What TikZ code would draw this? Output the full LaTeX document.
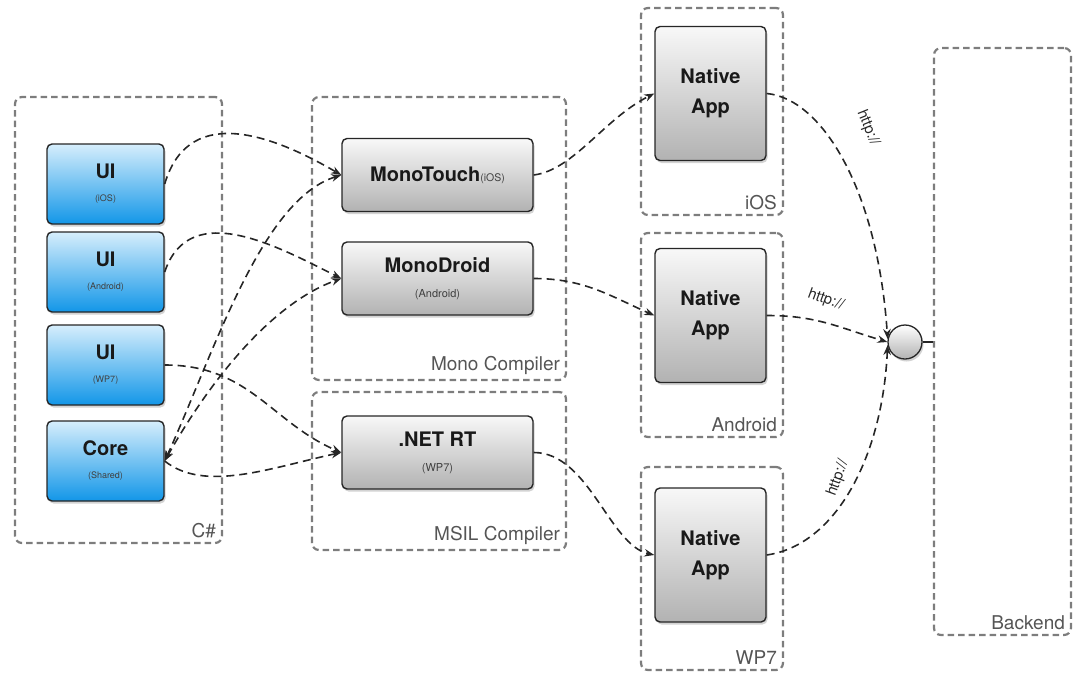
\documentclass[tikz,border=0pt]{standalone}
\usepackage{fontspec}
\setmainfont{TeX Gyre Heros}
\usetikzlibrary{arrows.meta, positioning, shadows}
\definecolor{uitop}{RGB}{214,238,252}
\definecolor{uibot}{RGB}{18,150,232}
\definecolor{grtop}{RGB}{248,248,248}
\definecolor{grbot}{RGB}{178,178,178}
\definecolor{dashgray}{RGB}{125,125,125}
\definecolor{lblgray}{RGB}{85,85,85}
\newcommand{\subt}[1]{{\mdseries\color{black!75}\fontsize{9}{10}\selectfont #1}}

\tikzset{
  box/.style={draw=black!85, line width=1.4pt, rounded corners=5pt, align=center,
    text=black!90, drop shadow={opacity=0.35, shadow xshift=1.5pt, shadow yshift=-2.5pt}},
  uibox/.style={box, top color=uitop, bottom color=uibot, minimum width=117pt,
    minimum height=80pt, font=\bfseries\fontsize{20}{22}\selectfont},
  cmpbox/.style={box, top color=grtop, bottom color=grbot, minimum width=191pt,
    minimum height=73pt, font=\bfseries\fontsize{20}{22}\selectfont},
  appbox/.style={box, top color=grtop, bottom color=grbot, minimum width=111pt,
    minimum height=134pt, font=\bfseries\fontsize{20}{30}\selectfont},
  group/.style={draw=dashgray, line width=2.2pt, dash pattern=on 6.5pt off 4pt,
    rounded corners=7pt},
  grouplbl/.style={text=lblgray, font=\fontsize{19}{22}\selectfont, anchor=south east,
    inner sep=0pt, xshift=-7pt, yshift=6pt},
  link/.style={draw=black!85, line width=1.6pt, dash pattern=on 8pt off 5pt,
    -{Stealth[length=10pt,width=7.5pt]}},
  httplbl/.style={font=\fontsize{15}{16}\selectfont, text=black!85, inner sep=1pt}
}

\begin{document}
\begin{tikzpicture}[x=1pt, y=-1pt]
  \useasboundingbox (0,0) rectangle (1074,675);

  % containers
  \node[group, minimum width=207pt, minimum height=446pt] (csharp) at (118.5,320) {};
  \node[group, minimum width=254pt, minimum height=283pt] (mono) at (439,238.5) {};
  \node[group, minimum width=254pt, minimum height=158pt] (msil) at (439,471) {};
  \node[group, minimum width=142pt, minimum height=207pt] (ios) at (712,111.5) {};
  \node[group, minimum width=142pt, minimum height=204pt] (android) at (712,335) {};
  \node[group, minimum width=142pt, minimum height=203pt] (wp) at (712,568.5) {};
  \node[group, minimum width=137pt, minimum height=587pt] (backend) at (1002.5,341.5) {};
  \node[grouplbl] at (csharp.south east) {C\#};
  \node[grouplbl] at (mono.south east) {Mono Compiler};
  \node[grouplbl] at (msil.south east) {MSIL Compiler};
  \node[grouplbl] at (ios.south east) {iOS};
  \node[grouplbl] at (android.south east) {Android};
  \node[grouplbl] at (wp.south east) {WP7};
  \node[grouplbl] at (backend.south east) {Backend};

  % C# projects
  \node[uibox] (uiios) at (105.5,184) {UI\\[1pt]\subt{(iOS)}};
  \node[uibox] (uiand) at (105.5,272) {UI\\[1pt]\subt{(Android)}};
  \node[uibox] (uiwp) at (105.5,365) {UI\\[1pt]\subt{(WP7)}};
  \node[uibox] (core) at (105.5,461) {Core\\[1pt]\subt{(Shared)}};

  % compilers
  \node[cmpbox] (mt) at (437.5,175) {MonoTouch{\mdseries\color{black!75}\fontsize{10.5}{11}\selectfont(iOS)}};
  \node[cmpbox] (md) at (437.5,278.5) {MonoDroid\\[3pt]{\mdseries\color{black!75}\fontsize{11}{12}\selectfont(Android)}};
  \node[cmpbox] (net) at (437.5,452.5) {.NET RT\\[3pt]{\mdseries\color{black!75}\fontsize{11}{12}\selectfont(WP7)}};

  % native apps
  \node[appbox] (nios) at (710.5,93.5) {Native\\App};
  \node[appbox] (nand) at (710.5,315.5) {Native\\App};
  \node[appbox] (nwp) at (710.5,555) {Native\\App};

  \node[draw=black!85, line width=1.3pt, circle, minimum size=34pt, top color=white,
    bottom color=grbot, drop shadow={opacity=0.35, shadow xshift=1.5pt, shadow yshift=-2.5pt}]
    (hub) at (905,342) {};
  \draw[black!85, line width=1.3pt] (hub.east) -- (hub.east -| backend.west);

  % sources to compilers
  \draw[link] (uiios.east) .. controls +(25,-85) and +(-60,-35) .. (mt.west);
  \draw[link] (uiand.east) .. controls +(25,-75) and +(-60,-30) .. (md.west);
  \draw[link] (uiwp.east) .. controls +(85,0) and +(-70,-30) .. (net.west);
  \draw[link, {Stealth[length=10pt,width=7.5pt]}-{Stealth[length=10pt,width=7.5pt]}]
    (core.east) .. controls +(50,-110) and +(-80,25) .. (mt.west);
  \draw[link, {Stealth[length=10pt,width=7.5pt]}-{Stealth[length=10pt,width=7.5pt]}]
    (core.east) .. controls +(45,-80) and +(-70,25) .. (md.west);
  \draw[link] (core.east) .. controls +(40,32) and +(-70,15) .. (net.west);

  % compilers to native apps
  \draw[link] (mt.east) .. controls +(40,-5) and +(-50,25) .. (nios.west);
  \draw[link] (md.east) .. controls +(50,0) and +(-45,-20) .. (nand.west);
  \draw[link] (net.east) .. controls +(55,0) and +(-45,-10) .. (nwp.west);

  % native apps to backend
  \draw[link] (nios.east) .. controls +(55,5) and +(-10,-150) .. (hub.170);
  \draw[link] (nand.east) .. controls +(50,0) and +(-50,-15) .. (hub.west);
  \draw[link] (nwp.east) .. controls +(70,-10) and +(-5,110) .. (hub.190);
  \node[httplbl, rotate=-68] at (868,128) {http://};
  \node[httplbl, rotate=-20] at (826,300) {http://};
  \node[httplbl, rotate=70] at (838,478) {http://};
\end{tikzpicture}
\end{document}
